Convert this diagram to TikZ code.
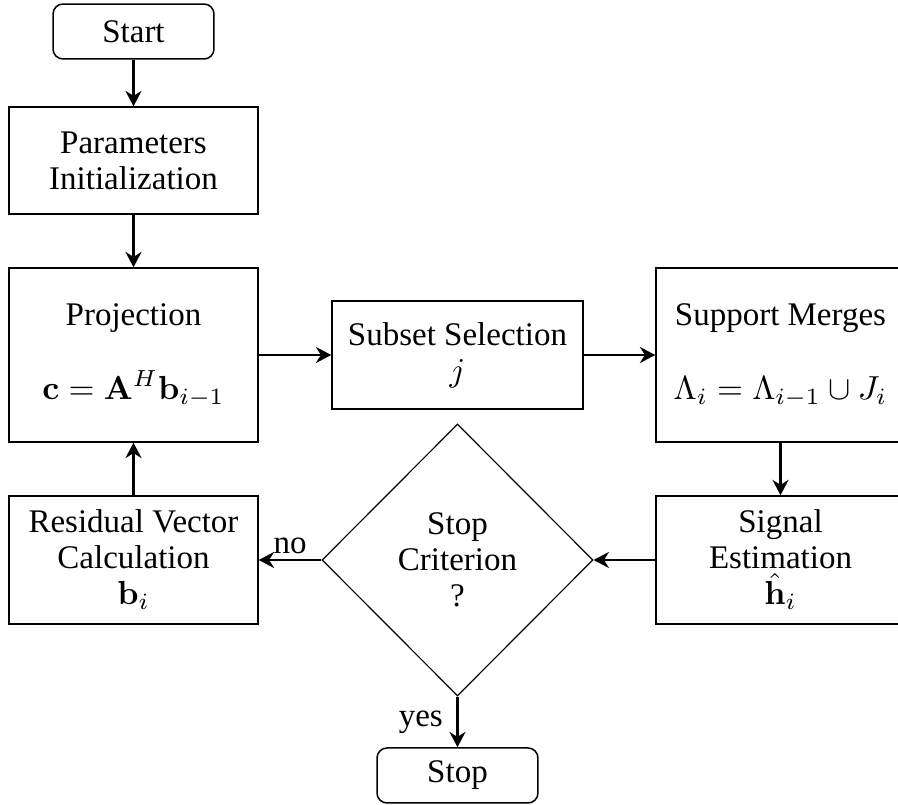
\documentclass[tikz,border=0pt]{standalone}
\usepackage[no-math]{fontspec}
\setmainfont{Liberation Serif}
\usetikzlibrary{shapes.geometric,arrows.meta}
\tikzset{
  txt/.style={font=\fontsize{9.9pt}{10.8pt}\selectfont},
  box/.style={txt, draw, rectangle, inner sep=0pt, align=center, line width=0.45pt},
  term/.style={box, rounded corners=3pt},
  dec/.style={txt, draw, diamond, aspect=1, inner sep=0pt, align=center, line width=0.35pt},
  arr/.style={-{Stealth[length=4.6pt,width=4.8pt,inset=1.5pt]}, line width=0.85pt}
}
\begin{document}
\begin{tikzpicture}[x=0.3pt,y=-0.3pt]
\useasboundingbox (0,0) rectangle (898,805);
\clip (0,0) rectangle (898,805);
\node[term, minimum width=48.3pt, minimum height=16.5pt] (start) at (133.5,31.5) {Start};
\node[box, minimum width=74.7pt, minimum height=32.1pt] (params) at (133.5,160.5) {Parameters\\Initialization};
\node[box, minimum width=74.7pt, minimum height=52.2pt] (proj) at (133.5,355) {Projection\\[11.4pt]$\mathbf{c}=\mathbf{A}^H\mathbf{b}_{i-1}$};
\node[box, minimum width=74.7pt, minimum height=38.4pt] (resid) at (133.5,560) {Residual Vector\\Calculation\\$\mathbf{b}_i$};
\node[box, minimum width=75.3pt, minimum height=32.4pt] (subset) at (457.5,355) {Subset Selection\\$j$};
\node[box, minimum width=74.7pt, minimum height=52.2pt] (support) at (780.5,355) {Support Merges\\[11.4pt]$\Lambda_i=\Lambda_{i-1}\cup J_i$};
\node[box, minimum width=74.7pt, minimum height=38.4pt] (signal) at (780.5,560) {Signal\\Estimation\\$\hat{\mathbf{h}}_i$};
\node[dec, minimum width=81.3pt, minimum height=81.6pt] (crit) at (457.5,560) {Stop\\Criterion\\?};
\node[term, minimum width=48.3pt, minimum height=16.5pt] (stop) at (457.5,775.5) {Stop};
\draw[arr] (start) -- (params);
\draw[arr] (params) -- (proj);
\draw[arr] (proj) -- (subset);
\draw[arr] (subset) -- (support);
\draw[arr] (support) -- (signal);
\draw[arr] (signal) -- (crit);
\draw[arr] (crit) -- node[txt, above=1.5pt, inner sep=0pt] (nolab) {no} (resid);
\draw[arr] (resid) -- (proj);
\draw[arr] (crit) -- node[txt, left=4pt, inner sep=0pt] (yeslab) {yes} (stop);
\end{tikzpicture}
\end{document}
